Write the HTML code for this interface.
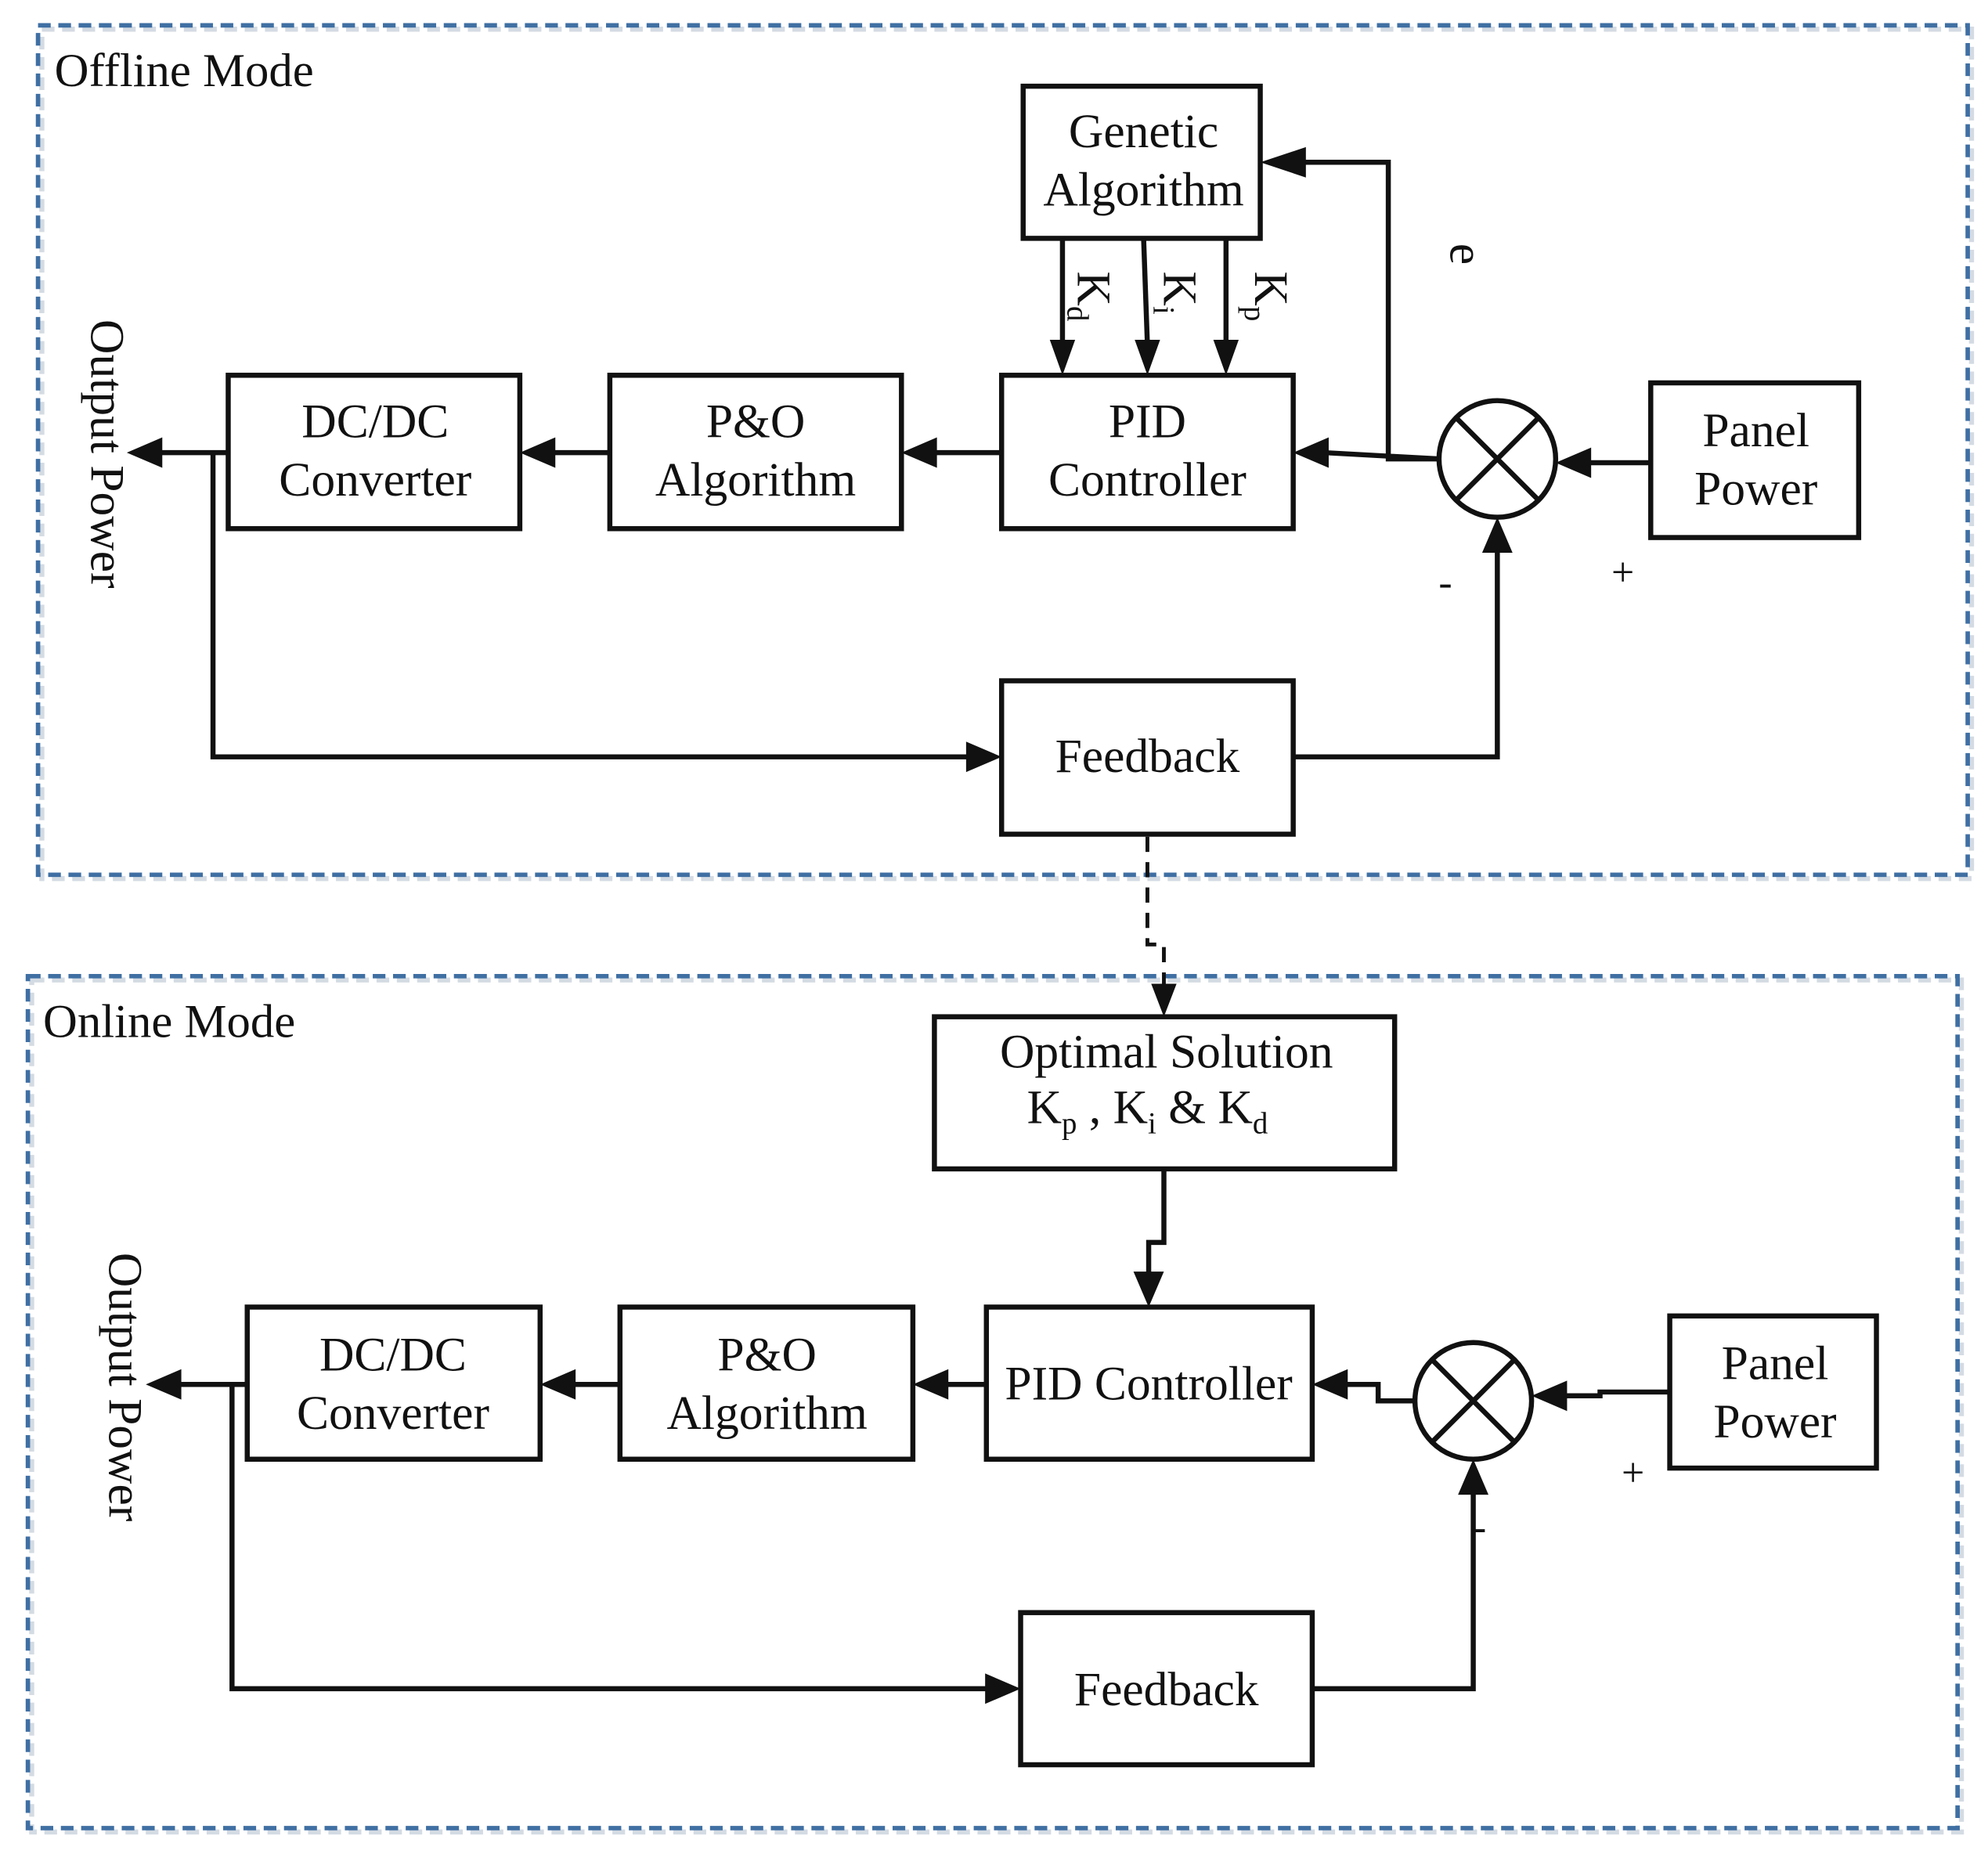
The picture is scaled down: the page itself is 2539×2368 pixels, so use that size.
<!DOCTYPE html>
<html><head><meta charset="utf-8"><style>
html,body{margin:0;padding:0;background:#fff;}
svg{display:block;}
text{font-family:"Liberation Serif",serif;fill:#111;}
</style></head><body>
<svg width="2539" height="2368" viewBox="0 0 1568 1462.4" xmlns="http://www.w3.org/2000/svg">
<g fill="none" stroke="#aab8c8" stroke-width="4" stroke-dasharray="10,6" opacity="0.5">
<rect x="33" y="23" width="1522" height="670"/>
<rect x="25" y="773" width="1522" height="672"/>
</g>
<g fill="none" stroke="#3f6fa3" stroke-width="3.5" stroke-dasharray="10,6">
<rect x="30" y="20" width="1522" height="670"/>
<rect x="22" y="770" width="1522" height="672"/>
</g>
<text x="43" y="68" font-size="37.5">Offline Mode</text>
<text x="34" y="818" font-size="37.5">Online Mode</text>

<g fill="#fff" stroke="#111" stroke-width="4">
<rect x="807" y="68" width="187" height="120"/>
<rect x="790" y="296" width="230" height="121"/>
<rect x="481" y="296" width="230" height="121"/>
<rect x="180" y="296" width="230" height="121"/>
<rect x="1302" y="302" width="164" height="122"/>
<rect x="790" y="537" width="230" height="121"/>
<circle cx="1181" cy="362" r="46"/>
<rect x="737" y="802" width="363" height="120"/>
<rect x="778" y="1031" width="257" height="120"/>
<rect x="489" y="1031" width="231" height="120"/>
<rect x="195" y="1031" width="231" height="120"/>
<rect x="1317" y="1038" width="163" height="120"/>
<rect x="805" y="1272" width="230" height="120"/>
<circle cx="1162" cy="1105" r="46"/>
</g>
<g stroke="#111" stroke-width="4">
<line x1="1148" y1="329" x2="1214" y2="395"/><line x1="1214" y1="329" x2="1148" y2="395"/>
<line x1="1129" y1="1072" x2="1195" y2="1138"/><line x1="1195" y1="1072" x2="1129" y2="1138"/>
</g>

<g fill="none" stroke="#111" stroke-width="4">
<line x1="838" y1="188" x2="838" y2="272"/>
<line x1="902" y1="188" x2="905" y2="272"/>
<line x1="967" y1="188" x2="967" y2="272"/>
<polyline points="1135,362 1095,362 1095,128 1028,128"/>
<line x1="1135" y1="362" x2="1044" y2="357"/>
<line x1="790" y1="357" x2="735" y2="357"/>
<line x1="481" y1="357" x2="434" y2="357"/>
<line x1="180" y1="357" x2="125" y2="357"/>
<polyline points="168,357 168,597 766,597"/>
<line x1="1302" y1="365" x2="1251" y2="365"/>
<polyline points="1020,597 1181,597 1181,432"/>
<polyline points="918,922 918,980 906,980 906,1007"/>
<polyline points="1116,1105 1087,1105 1087,1092 1059,1092"/>
<line x1="778" y1="1092" x2="744" y2="1092"/>
<line x1="489" y1="1092" x2="450" y2="1092"/>
<line x1="195" y1="1092" x2="139" y2="1092"/>
<polyline points="183,1092 183,1332 781,1332"/>
<polyline points="1317,1098 1262,1098 1262,1101 1232,1101"/>
<polyline points="1035,1332 1162,1332 1162,1175"/>
</g>
<polyline points="905,660 905,745 918,745 918,778" fill="none" stroke="#111" stroke-width="3" stroke-dasharray="12,8"/>

<g fill="#111">
<polygon points="838,296 828,268 848,268"/>
<polygon points="905,296 895,268 915,268"/>
<polygon points="967,296 957,268 977,268"/>
<polygon points="994,128 1030,116 1030,140"/>
<polygon points="1020,357 1048,345 1048,369"/>
<polygon points="711,357 739,345 739,369"/>
<polygon points="410,357 438,345 438,369"/>
<polygon points="100,357 128,345 128,369"/>
<polygon points="790,597 762,585 762,609"/>
<polygon points="1227,365 1255,353 1255,377"/>
<polygon points="1181,408 1169,436 1193,436"/>
<polygon points="918,802 908,776 928,776"/>
<polygon points="906,1031 894,1003 918,1003"/>
<polygon points="1035,1092 1063,1080 1063,1104"/>
<polygon points="720,1092 748,1080 748,1104"/>
<polygon points="426,1092 454,1080 454,1104"/>
<polygon points="115,1092 143,1080 143,1104"/>
<polygon points="805,1332 777,1320 777,1344"/>
<polygon points="1208,1101 1236,1089 1236,1113"/>
<polygon points="1162,1151 1150,1179 1174,1179"/>
</g>

<g font-size="38" text-anchor="middle">
<text x="902" y="116">Genetic</text>
<text x="902" y="162">Algorithm</text>
<text x="905" y="345">PID</text>
<text x="905" y="391">Controller</text>
<text x="596" y="345">P&amp;O</text>
<text x="596" y="391">Algorithm</text>
<text x="296" y="345">DC/DC</text>
<text x="296" y="391">Converter</text>
<text x="1385" y="352">Panel</text>
<text x="1385" y="398">Power</text>
<text x="905" y="609">Feedback</text>
<text x="920" y="842">Optimal Solution</text>
<text x="906" y="1104">PID Controller</text>
<text x="605" y="1081">P&amp;O</text>
<text x="605" y="1127">Algorithm</text>
<text x="310" y="1081">DC/DC</text>
<text x="310" y="1127">Converter</text>
<text x="1400" y="1088">Panel</text>
<text x="1400" y="1134">Power</text>
<text x="920" y="1345">Feedback</text>
<text x="1280" y="462" font-size="32">+</text>
<text x="1140" y="470" font-size="32">-</text>
<text x="1288" y="1172" font-size="32">+</text>
<text x="1167" y="1215" font-size="32">-</text>
</g>
<text x="810" y="886" font-size="38">K<tspan font-size="24" dy="8">p</tspan><tspan dy="-8"> , K</tspan><tspan font-size="24" dy="8">i</tspan><tspan dy="-8"> &amp; K</tspan><tspan font-size="24" dy="8">d</tspan></text>
<g font-size="38">
<text transform="translate(72,252) rotate(90)">Output Power</text>
<text transform="translate(86,988) rotate(90)">Output Power</text>
<text transform="translate(850,214) rotate(90)">K<tspan font-size="24" dy="8">d</tspan></text>
<text transform="translate(918,214) rotate(90)">K<tspan font-size="24" dy="8">i</tspan></text>
<text transform="translate(990,214) rotate(90)">K<tspan font-size="24" dy="8">p</tspan></text>
<text transform="translate(1144,192) rotate(90)">e</text>
</g>
</svg>
</body></html>
